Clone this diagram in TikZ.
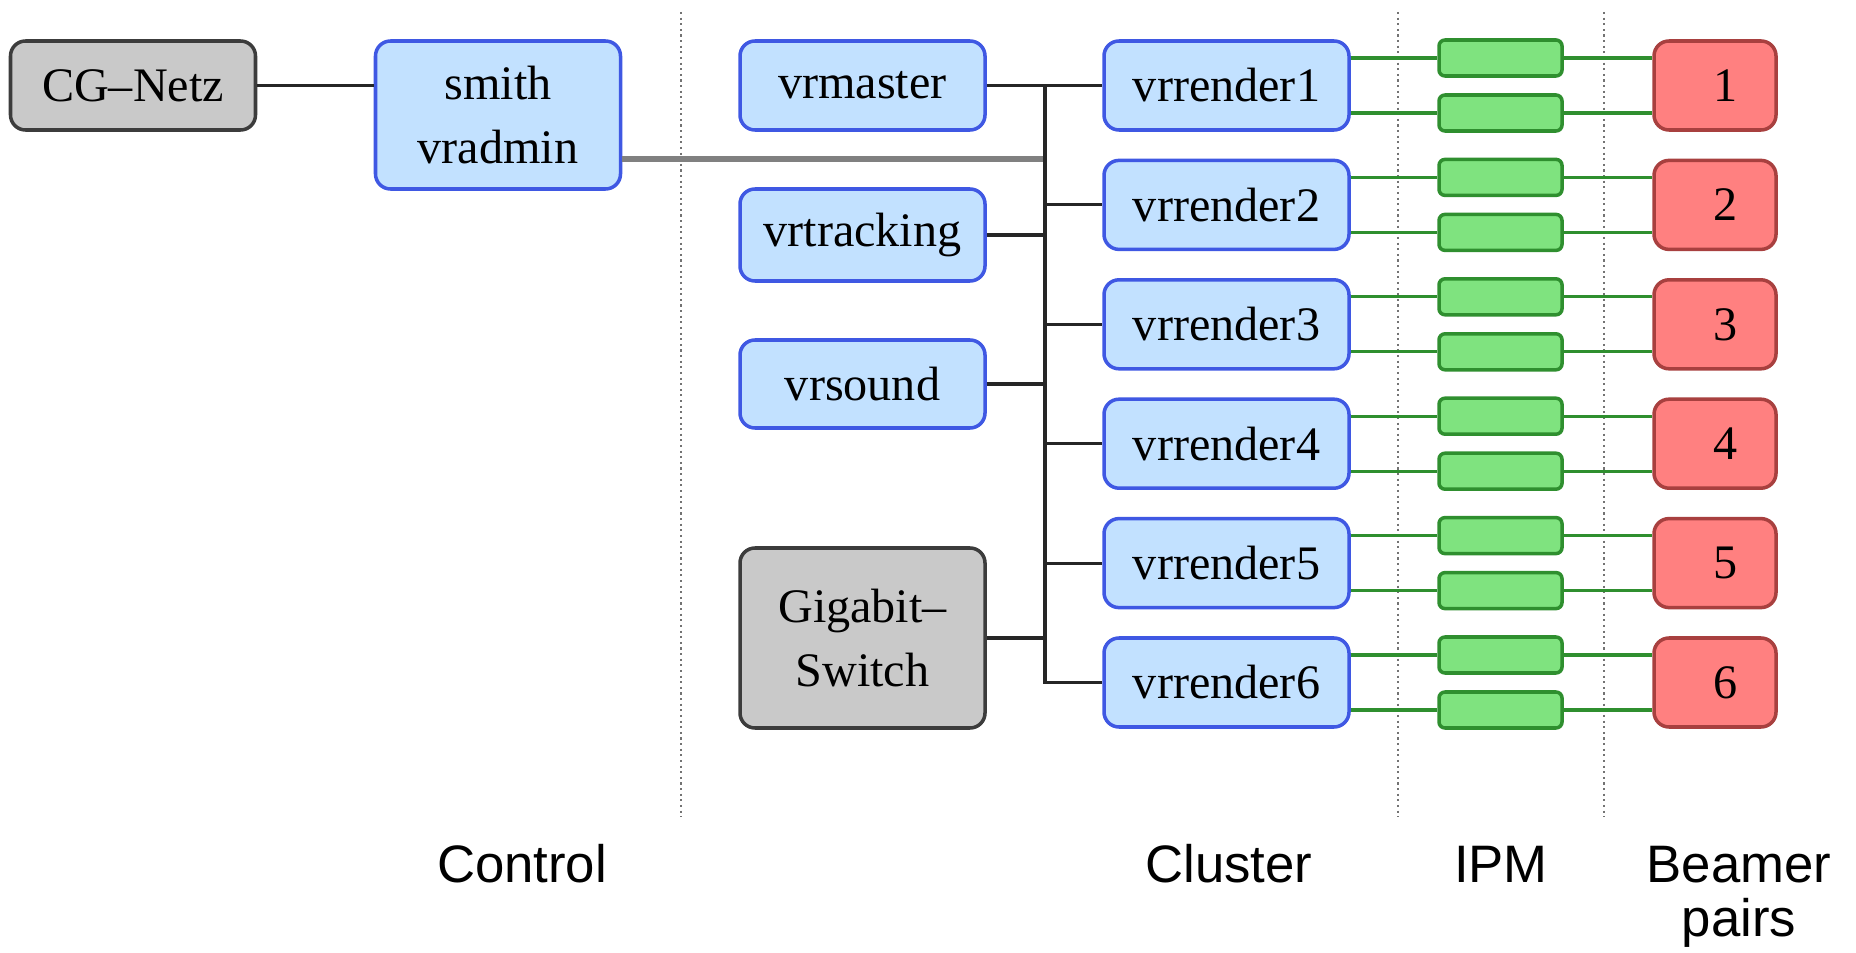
\documentclass[tikz,border=0pt]{standalone}
\usepackage{fontspec}
\setmainfont{Liberation Serif}
\newfontfamily\labelfont{Liberation Sans}
\usetikzlibrary{positioning}

\definecolor{hostfill}{HTML}{C2E1FF}
\definecolor{hostdraw}{HTML}{3F58E3}
\definecolor{netfill}{HTML}{C9C9C9}
\definecolor{netdraw}{HTML}{3C3C3C}
\definecolor{ipmfill}{HTML}{7FE37F}
\definecolor{ipmdraw}{HTML}{2F8F2F}
\definecolor{beamfill}{HTML}{FF8080}
\definecolor{beamdraw}{HTML}{A8403F}

\begin{document}
\begin{tikzpicture}[
	host/.style={rectangle, rounded corners=1.5mm, line width=1pt, draw=hostdraw, fill=hostfill, minimum width=2.45cm, minimum height=0.89cm, inner sep=0pt, align=center, font=\fontsize{13.7}{18.2}\selectfont},
	net/.style={host, draw=netdraw, fill=netfill},
	ipm/.style={rectangle, rounded corners=0.6mm, line width=1pt, draw=ipmdraw, fill=ipmfill, minimum width=1.23cm, minimum height=0.36cm, inner sep=0pt},
	beamer/.style={host, draw=beamdraw, fill=beamfill, minimum width=1.22cm},
	wire/.style={line width=0.9pt, draw=black!85},
	uplink/.style={line width=1.5pt, draw=black!50},
	ipmwire/.style={line width=0.9pt, draw=ipmdraw},
	sep/.style={densely dotted, line width=0.6pt, draw=black!55},
	section/.style={align=center, font=\labelfont\fontsize{15}{15.5}\selectfont}]
		\useasboundingbox (0,0) rectangle (18.56,-9.53);

		% separators between the columns
		\draw[sep] (6.81,-0.12) -- (6.81,-8.17);
		\draw[sep] (13.98,-0.12) -- (13.98,-8.17);
		\draw[sep] (16.04,-0.12) -- (16.04,-8.17);

		% control side
		\node[net] (cgnetz) at (1.33,-0.855) {CG–Netz};
		\node[host, minimum height=1.48cm] (smith) at (4.98,-1.15) {smith\\vradmin};
		\node[host] (master) at (8.625,-0.855) {vrmaster};
		\node[host, minimum height=0.92cm] (tracking) at (8.625,-2.35) {vrtracking};
		\node[host, minimum height=0.88cm] (sound) at (8.625,-3.84) {vrsound};
		\node[net, minimum height=1.80cm] (switch) at (8.625,-6.38) {Gigabit–\\Switch};

		% render cluster
		\node[host] (r1) at (12.265,-0.855) {vrrender1};
		\node[host] (r2) at (12.265,-2.049) {vrrender2};
		\node[host] (r3) at (12.265,-3.243) {vrrender3};
		\node[host] (r4) at (12.265,-4.437) {vrrender4};
		\node[host] (r5) at (12.265,-5.631) {vrrender5};
		\node[host] (r6) at (12.265,-6.825) {vrrender6};

		% two IPM boxes per render node
		\node[ipm] (i1a) at (15.005,-0.58) {};
		\node[ipm] (i1b) at (15.005,-1.13) {};
		\node[ipm] (i2a) at (15.005,-1.774) {};
		\node[ipm] (i2b) at (15.005,-2.324) {};
		\node[ipm] (i3a) at (15.005,-2.968) {};
		\node[ipm] (i3b) at (15.005,-3.518) {};
		\node[ipm] (i4a) at (15.005,-4.162) {};
		\node[ipm] (i4b) at (15.005,-4.712) {};
		\node[ipm] (i5a) at (15.005,-5.356) {};
		\node[ipm] (i5b) at (15.005,-5.906) {};
		\node[ipm] (i6a) at (15.005,-6.55) {};
		\node[ipm] (i6b) at (15.005,-7.1) {};

		% beamer pairs
		\node[beamer] (b1) at (17.15,-0.855) {\hspace*{0.22cm}1};
		\node[beamer] (b2) at (17.15,-2.049) {\hspace*{0.22cm}2};
		\node[beamer] (b3) at (17.15,-3.243) {\hspace*{0.22cm}3};
		\node[beamer] (b4) at (17.15,-4.437) {\hspace*{0.22cm}4};
		\node[beamer] (b5) at (17.15,-5.631) {\hspace*{0.22cm}5};
		\node[beamer] (b6) at (17.15,-6.825) {\hspace*{0.22cm}6};

		% network bus
		\coordinate (bus) at (10.45,0);
		\coordinate (admin) at (10.45,-1.59);
		\draw[wire] (cgnetz) -- (cgnetz -| smith.west);
		\draw[uplink] (smith.east |- admin) -- (admin);
		\draw[wire] (master) -- (r1);
		\draw[wire] (bus |- r1.west) |- (r6.west);
		\draw[wire] (bus |- r2.west) -- (r2.west);
		\draw[wire] (bus |- r3.west) -- (r3.west);
		\draw[wire] (bus |- r4.west) -- (r4.west);
		\draw[wire] (bus |- r5.west) -- (r5.west);
		\draw[wire] (tracking.east) -- (bus |- tracking.east);
		\draw[wire] (sound.east) -- (bus |- sound.east);
		\draw[wire] (switch.east) -- (bus |- switch.east);

		% video links
		\draw[ipmwire] (r1.east |- i1a) -- (i1a.west);
		\draw[ipmwire] (i1a.east) -- (b1.west |- i1a);
		\draw[ipmwire] (r1.east |- i1b) -- (i1b.west);
		\draw[ipmwire] (i1b.east) -- (b1.west |- i1b);
		\draw[ipmwire] (r2.east |- i2a) -- (i2a.west);
		\draw[ipmwire] (i2a.east) -- (b2.west |- i2a);
		\draw[ipmwire] (r2.east |- i2b) -- (i2b.west);
		\draw[ipmwire] (i2b.east) -- (b2.west |- i2b);
		\draw[ipmwire] (r3.east |- i3a) -- (i3a.west);
		\draw[ipmwire] (i3a.east) -- (b3.west |- i3a);
		\draw[ipmwire] (r3.east |- i3b) -- (i3b.west);
		\draw[ipmwire] (i3b.east) -- (b3.west |- i3b);
		\draw[ipmwire] (r4.east |- i4a) -- (i4a.west);
		\draw[ipmwire] (i4a.east) -- (b4.west |- i4a);
		\draw[ipmwire] (r4.east |- i4b) -- (i4b.west);
		\draw[ipmwire] (i4b.east) -- (b4.west |- i4b);
		\draw[ipmwire] (r5.east |- i5a) -- (i5a.west);
		\draw[ipmwire] (i5a.east) -- (b5.west |- i5a);
		\draw[ipmwire] (r5.east |- i5b) -- (i5b.west);
		\draw[ipmwire] (i5b.east) -- (b5.west |- i5b);
		\draw[ipmwire] (r6.east |- i6a) -- (i6a.west);
		\draw[ipmwire] (i6a.east) -- (b6.west |- i6a);
		\draw[ipmwire] (r6.east |- i6b) -- (i6b.west);
		\draw[ipmwire] (i6b.east) -- (b6.west |- i6b);

		% column titles
		\node[section] (control) at (5.22,-8.64) {Control};
		\node[section] (cluster) at (12.29,-8.64) {Cluster};
		\node[section] (ipmtitle) at (15.01,-8.64) {IPM};
		\node[section] (beamtitle) at (17.39,-8.97) {Beamer\\pairs};
	\end{tikzpicture}
\end{document}
